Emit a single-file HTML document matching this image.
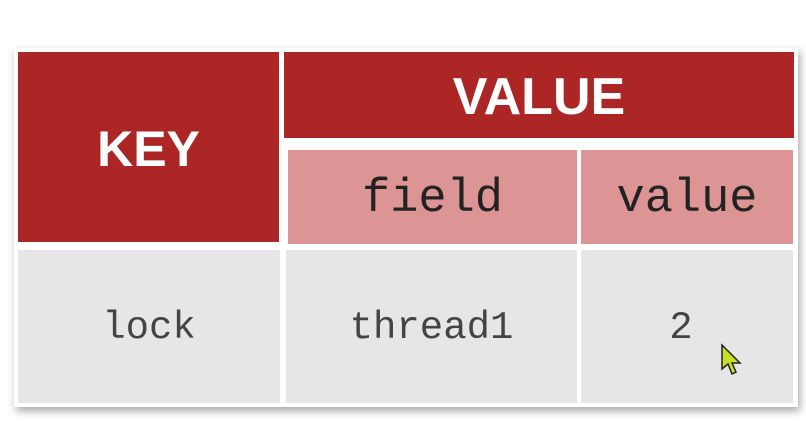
<!DOCTYPE html>
<html><head><style>
body{margin:0;width:806px;height:433px;background:#fff;position:relative;overflow:hidden;font-family:"Liberation Mono",monospace}
div{position:absolute;box-sizing:border-box;display:flex;align-items:center;justify-content:center}
.card{left:14px;top:48px;width:784px;height:359px;background:#fff;box-shadow:2px 4px 8px rgba(0,0,0,0.35)}
.dk{background:#ab2624;color:#fff;font-family:"Liberation Sans",sans-serif;font-weight:bold;font-size:50px}
.pk{background:#dc9594;color:#222;font-size:47px}
.gr{background:#e6e6e7;color:#444;font-size:39px}
</style></head><body>
<div class="card"></div>
<div class="dk" style="left:18px;top:52px;width:261px;height:190px;padding-top:4px">KEY</div>
<div class="dk" style="left:284px;top:52px;width:510px;height:86px;font-size:52px;padding-top:4px">VALUE</div>
<div class="pk" style="left:288px;top:150px;width:289px;height:94px;padding-top:4px">field</div>
<div class="pk" style="left:581px;top:150px;width:212px;height:94px;padding-top:4px">value</div>
<div class="gr" style="left:18px;top:250px;width:262px;height:153px;padding-top:2px">lock</div>
<div class="gr" style="left:286px;top:250px;width:291px;height:153px;padding-top:2px">thread1</div>
<div class="gr" style="left:581px;top:250px;width:212px;height:153px;padding-right:12px;padding-top:2px">2</div>
<svg style="position:absolute;left:720px;top:343px" width="26" height="36" viewBox="0 0 26 36"><path d="M2 2 L2 26 L8 21 L12 31 L16 29 L12 20 L20 20 Z" fill="#c9e021" stroke="#222" stroke-width="1.5"/></svg>
</body></html>
